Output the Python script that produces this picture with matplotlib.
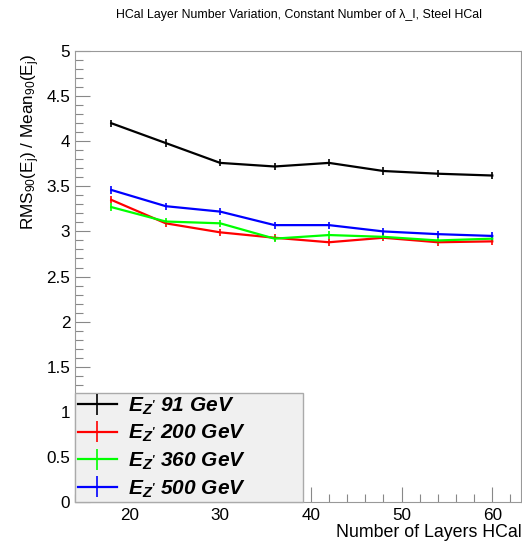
import matplotlib

matplotlib.use("Agg")
import matplotlib.pyplot as plt  # noqa: E402
from matplotlib.ticker import MultipleLocator  # noqa: E402

plt.rcParams["font.family"] = ["Liberation Sans", "DejaVu Sans"]
plt.rcParams["mathtext.fontset"] = "custom"
plt.rcParams["mathtext.rm"] = "Liberation Sans"
plt.rcParams["mathtext.it"] = "Liberation Sans:italic"
plt.rcParams["mathtext.bf"] = "Liberation Sans:bold:italic"

layers = [18, 24, 30, 36, 42, 48, 54, 60]
rms_91 = [4.20, 3.98, 3.76, 3.72, 3.76, 3.67, 3.64, 3.62]
rms_200 = [3.35, 3.09, 2.99, 2.93, 2.88, 2.93, 2.88, 2.89]
rms_360 = [3.27, 3.11, 3.09, 2.92, 2.96, 2.94, 2.90, 2.92]
rms_500 = [3.46, 3.28, 3.22, 3.07, 3.07, 3.00, 2.97, 2.95]
err = 0.04

series = [
    ("91", rms_91, "black"),
    ("200", rms_200, "red"),
    ("360", rms_360, "#00ff00"),
    ("500", rms_500, "blue"),
]

fig = plt.figure(figsize=(5.22, 5.42), dpi=100)
ax = fig.add_axes([0.1437, 0.0738, 0.855, 0.832])

for energy, vals, col in series:
    ax.errorbar(layers, vals, yerr=err, color=col, lw=1.6, elinewidth=1.2,
                capsize=0, label=r"$\mathbf{E}_{\mathbf{Z'}}$ " + f"{energy} GeV")

ax.set_xlim(14, 63.2)
ax.set_ylim(0, 5)
ax.xaxis.set_major_locator(MultipleLocator(10))
ax.xaxis.set_minor_locator(MultipleLocator(2))
ax.yaxis.set_major_locator(MultipleLocator(0.5))
ax.yaxis.set_minor_locator(MultipleLocator(0.1))
ax.tick_params(which="both", direction="in", colors="#888888", labelcolor="black",
               labelsize=12.3, top=False, right=False)
ax.tick_params(which="major", length=11, width=0.8)
ax.tick_params(which="minor", length=5.5, width=0.8)
ax.tick_params(axis="x", pad=4)
ax.yaxis.set_major_formatter(plt.FuncFormatter(lambda v, _: f"{v:g}"))
for sp in ax.spines.values():
    sp.set_color("#999999")
    sp.set_linewidth(0.8)

ax.set_xlabel("Number of Layers HCal", fontsize=12.8, loc="right", labelpad=1)
ax.set_ylabel(r"RMS$_{90}$(E$_{\mathrm{j}}$) / Mean$_{90}$(E$_{\mathrm{j}}$)",
              fontsize=12.3, loc="top", labelpad=3)
ax.yaxis.label.set_y(0.995)

leg = ax.legend(loc="lower left", bbox_to_anchor=(0, 0, 0.51, 0.25), mode="expand",
                borderaxespad=0, fontsize=15, frameon=True, fancybox=False,
                handlelength=1.9, labelspacing=0.3, borderpad=0.12,
                handletextpad=0.5)
leg.get_frame().set_facecolor("#f0f0f0")
leg.get_frame().set_edgecolor("#aaaaaa")
leg.get_frame().set_alpha(1)
for t in leg.get_texts():
    t.set_fontweight("bold")
    t.set_fontstyle("italic")

fig.text(0.573, 0.972, r"HCal Layer Number Variation, Constant Number of λ_I, Steel HCal",
         ha="center", va="center", fontsize=8.9)

fig.savefig("out.png", dpi=100)
